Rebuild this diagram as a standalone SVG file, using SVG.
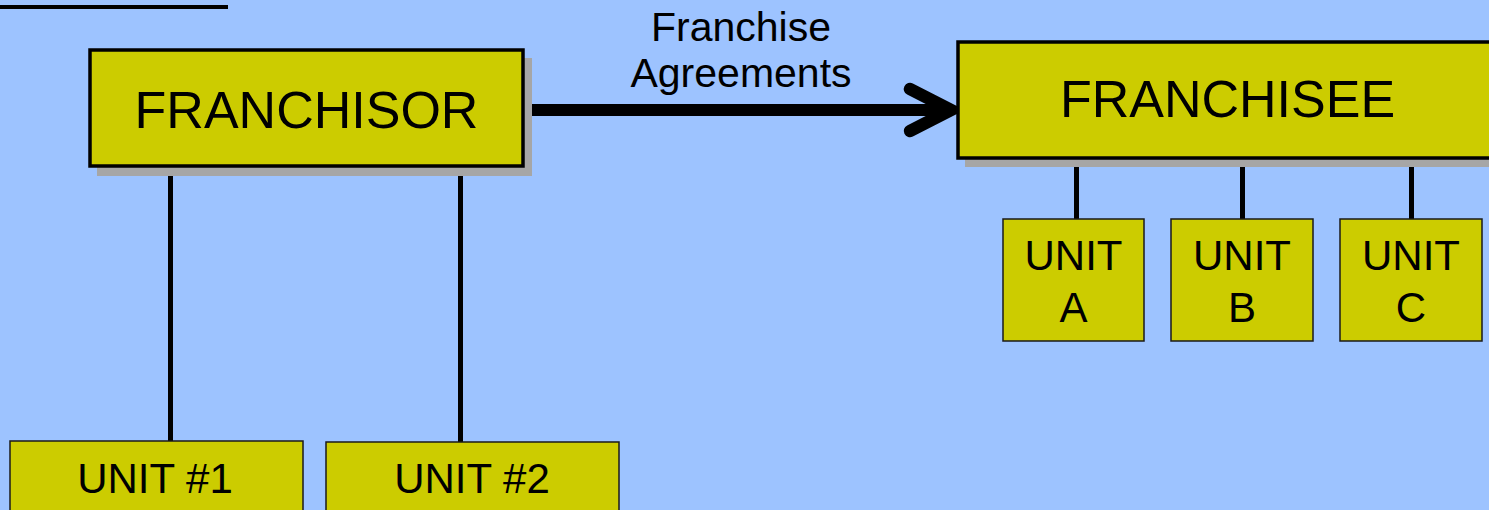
<svg xmlns="http://www.w3.org/2000/svg" width="1489" height="510" viewBox="0 0 1489 510">
  <style>
    .main { fill: #cccc00; stroke: #000; stroke-width: 3.5; }
    .shadow { fill: #a6a6a6; }
    .unit { fill: #cccc00; stroke: #1a1a1a; stroke-width: 1.5; }
    .link { stroke: #000; stroke-width: 5; fill: none; }
    text { font-family: "Liberation Sans", Arial, sans-serif; fill: #000; text-anchor: middle; }
    .big { font-size: 52px; }
    .mid { font-size: 42px; }
    .lbl { font-size: 41px; }
  </style>

  <!-- background -->
  <rect x="0" y="0" width="1489" height="510" fill="#9dc3ff"/>

  <!-- rule under the heading -->
  <line x1="0" y1="7" x2="228" y2="7" stroke="#000" stroke-width="4"/>

  <!-- connectors -->
  <g id="connectors">
    <line class="link" x1="170.5" y1="176" x2="170.5" y2="441"/>
    <line class="link" x1="460.5" y1="176" x2="460.5" y2="442"/>
    <line class="link" x1="1076.5" y1="167" x2="1076.5" y2="219"/>
    <line class="link" x1="1242.5" y1="167" x2="1242.5" y2="219"/>
    <line class="link" x1="1411.5" y1="167" x2="1411.5" y2="219"/>
    <!-- franchise agreements arrow -->
    <g id="agreement-arrow">
      <line x1="532" y1="110" x2="950" y2="110" stroke="#000" stroke-width="12"/>
      <polyline points="910,89 951,110 910,131" fill="none" stroke="#000" stroke-width="12.5" stroke-linecap="round" stroke-linejoin="miter"/>
      <text class="lbl" x="741" y="41">Franchise</text>
      <text class="lbl" x="741" y="87">Agreements</text>
    </g>
  </g>

  <!-- franchisor -->
  <g id="franchisor">
    <rect class="shadow" x="97" y="58" width="435" height="118"/>
    <rect class="main" x="90" y="50" width="433" height="116"/>
    <text class="big" x="306.5" y="128">FRANCHISOR</text>
  </g>

  <!-- franchisee -->
  <g id="franchisee">
    <rect class="shadow" x="965" y="49" width="540" height="118"/>
    <rect class="main" x="958" y="42" width="540" height="116"/>
    <text class="big" x="1227.5" y="117">FRANCHISEE</text>
  </g>

  <!-- franchisor units -->
  <g id="unit-1">
    <rect class="unit" x="10" y="441" width="293" height="80"/>
    <text class="mid" x="155" y="493">UNIT #1</text>
  </g>
  <g id="unit-2">
    <rect class="unit" x="326" y="442" width="293" height="80"/>
    <text class="mid" x="472" y="493">UNIT #2</text>
  </g>

  <!-- franchisee units -->
  <g id="unit-a">
    <rect class="unit" x="1003" y="219" width="141" height="122"/>
    <text class="mid" x="1073.5" y="270">UNIT</text>
    <text class="mid" x="1073.5" y="322">A</text>
  </g>
  <g id="unit-b">
    <rect class="unit" x="1171" y="219" width="142" height="122"/>
    <text class="mid" x="1242" y="270">UNIT</text>
    <text class="mid" x="1242" y="322">B</text>
  </g>
  <g id="unit-c">
    <rect class="unit" x="1340" y="219" width="142" height="122"/>
    <text class="mid" x="1411" y="270">UNIT</text>
    <text class="mid" x="1411" y="322">C</text>
  </g>
</svg>
